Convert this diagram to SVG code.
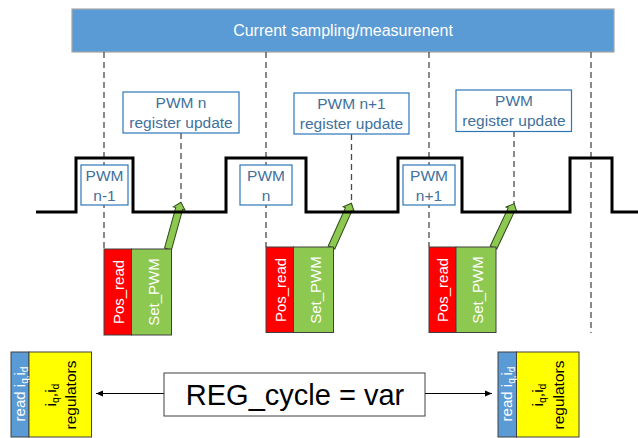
<svg xmlns="http://www.w3.org/2000/svg" width="638" height="438" viewBox="0 0 638 438">
<defs>
<style>
text{font-family:"Liberation Sans",Arial,sans-serif}
.dash{stroke:#4a4a4a;stroke-width:1.3;stroke-dasharray:6,4;fill:none}
.pwmbox{fill:#fff;stroke:#2E75B6;stroke-width:1.2}
.bt{fill:#41719C;font-size:15.5px;text-anchor:middle}
.red{fill:#FF0000;stroke:#404040;stroke-width:1}
.grn{fill:#8DC851;stroke:#404040;stroke-width:1}
.wt{fill:#fff;font-size:15px;text-anchor:middle}
.garrow{fill:#8DC851;stroke:#2f4a1a;stroke-width:1}
.blue{fill:#5B9BD5;stroke:#404040;stroke-width:1}
.yel{fill:#FFFF00;stroke:#404040;stroke-width:1}
.bk{fill:#000;font-size:15.5px;text-anchor:middle}
</style>
<path id="ga" d="M0,-3.6 L42,-3.6 L42,-6 L48.5,0 L42,6 L42,3.6 L0,3.6 Z"/>
<marker id="ah" markerWidth="8" markerHeight="8" refX="7" refY="4" orient="auto" markerUnits="userSpaceOnUse">
<path d="M0,1 L7,4 L0,7 Z" fill="#000"/>
</marker>
</defs>

<g id="header">
<rect x="72" y="9" width="542" height="43" fill="#5B9BD5" stroke="#A6A6A6" stroke-width="1.2"/>
<text x="343" y="36" fill="#fff" font-size="16" text-anchor="middle">Current sampling/measurenent</text>
</g>

<g id="connectors">
<line class="dash" x1="104" y1="52" x2="104" y2="249"/>
<line class="dash" x1="266" y1="52" x2="266" y2="247"/>
<line class="dash" x1="429" y1="52" x2="429" y2="247"/>
<line class="dash" x1="591" y1="52" x2="591" y2="333"/>
<line class="dash" x1="181" y1="133" x2="181" y2="203"/>
<line class="dash" x1="351.5" y1="134" x2="351.5" y2="205"/>
<line class="dash" x1="514" y1="131" x2="514" y2="205"/>
<line x1="164" y1="393.5" x2="96" y2="393.5" stroke="#000" stroke-width="1" marker-end="url(#ah)"/>
<line x1="425" y1="393.5" x2="492" y2="393.5" stroke="#000" stroke-width="1" marker-end="url(#ah)"/>
<use href="#ga" class="garrow" transform="translate(168,249) rotate(-74.5)"/>
<use href="#ga" class="garrow" transform="translate(331.5,247.5) rotate(-65.8)"/>
<use href="#ga" class="garrow" transform="translate(493.5,247.5) rotate(-64.7)"/>
</g>

<g id="waveform">
<polyline points="36,212 76,212 76,158 133,158 133,212 226,212 226,158 306,158 306,212 398,212 398,158 462,158 462,212 570,212 570,158 612,158 612,212 638,212" fill="none" stroke="#000" stroke-width="3"/>
</g>

<g id="pwm-n-1">
<rect class="pwmbox" x="81" y="165" width="47" height="40"/>
<text class="bt" x="104.5" y="181">PWM</text>
<text class="bt" x="104.5" y="201">n-1</text>
</g>
<g id="pwm-n">
<rect class="pwmbox" x="240" y="165" width="52" height="40"/>
<text class="bt" x="266" y="181">PWM</text>
<text class="bt" x="266" y="201">n</text>
</g>
<g id="pwm-n+1">
<rect class="pwmbox" x="403" y="165" width="52" height="40"/>
<text class="bt" x="429" y="181">PWM</text>
<text class="bt" x="429" y="201">n+1</text>
</g>

<g id="reg-update-n">
<rect class="pwmbox" x="123" y="92" width="116" height="41"/>
<text class="bt" x="181" y="108">PWM n</text>
<text class="bt" x="181" y="128">register update</text>
</g>
<g id="reg-update-n+1">
<rect class="pwmbox" x="294" y="93" width="115" height="41"/>
<text class="bt" x="351.5" y="109">PWM n+1</text>
<text class="bt" x="351.5" y="129">register update</text>
</g>
<g id="reg-update">
<rect class="pwmbox" x="456" y="90" width="115.5" height="41.5"/>
<text class="bt" x="514" y="106">PWM</text>
<text class="bt" x="514" y="126">register update</text>
</g>

<g id="task-1">
<rect class="red" x="104" y="249" width="27.5" height="86"/>
<rect class="grn" x="131.5" y="249" width="40" height="86"/>
<text class="wt" transform="translate(123.5,292) rotate(-90)">Pos_read</text>
<text class="wt" transform="translate(158.5,292) rotate(-90)">Set_PWM</text>
</g>
<g id="task-2">
<rect class="red" x="266" y="247" width="27.5" height="85.5"/>
<rect class="grn" x="293.5" y="247" width="40" height="85.5"/>
<text class="wt" transform="translate(285.5,290) rotate(-90)">Pos_read</text>
<text class="wt" transform="translate(320.5,290) rotate(-90)">Set_PWM</text>
</g>
<g id="task-3">
<rect class="red" x="429" y="247" width="27" height="85.5"/>
<rect class="grn" x="456" y="247" width="40" height="85.5"/>
<text class="wt" transform="translate(448,290) rotate(-90)">Pos_read</text>
<text class="wt" transform="translate(483,290) rotate(-90)">Set_PWM</text>
</g>

<g id="reg-cycle">
<rect x="164" y="373" width="261" height="43" fill="#fff" stroke="#404040" stroke-width="1"/>
<text x="295" y="405" font-size="29" fill="#000" text-anchor="middle">REG_cycle = var</text>
</g>

<g id="regulators-left">
<rect class="blue" x="11" y="352" width="18" height="85"/>
<rect class="yel" x="29" y="352" width="62.5" height="85"/>
<text class="wt" font-size="14.5" transform="translate(25,394) rotate(-90)">read i<tspan font-size="10" dy="3">q,</tspan><tspan dy="-3">i</tspan><tspan font-size="10" dy="3">d</tspan></text>
<text class="bk" transform="translate(55.5,395) rotate(-90)">i<tspan font-size="10.5" dy="3">q</tspan><tspan dy="-3">,i</tspan><tspan font-size="10.5" dy="3">d</tspan></text>
<text class="bk" transform="translate(76,395) rotate(-90)">regulators</text>
</g>
<g id="regulators-right">
<rect class="blue" x="498" y="352" width="18.5" height="85"/>
<rect class="yel" x="516.5" y="352" width="62.5" height="85"/>
<text class="wt" font-size="14.5" transform="translate(512,394) rotate(-90)">read i<tspan font-size="10" dy="3">q,</tspan><tspan dy="-3">i</tspan><tspan font-size="10" dy="3">d</tspan></text>
<text class="bk" transform="translate(543,395) rotate(-90)">i<tspan font-size="10.5" dy="3">q</tspan><tspan dy="-3">,i</tspan><tspan font-size="10.5" dy="3">d</tspan></text>
<text class="bk" transform="translate(563.5,395) rotate(-90)">regulators</text>
</g>
</svg>
